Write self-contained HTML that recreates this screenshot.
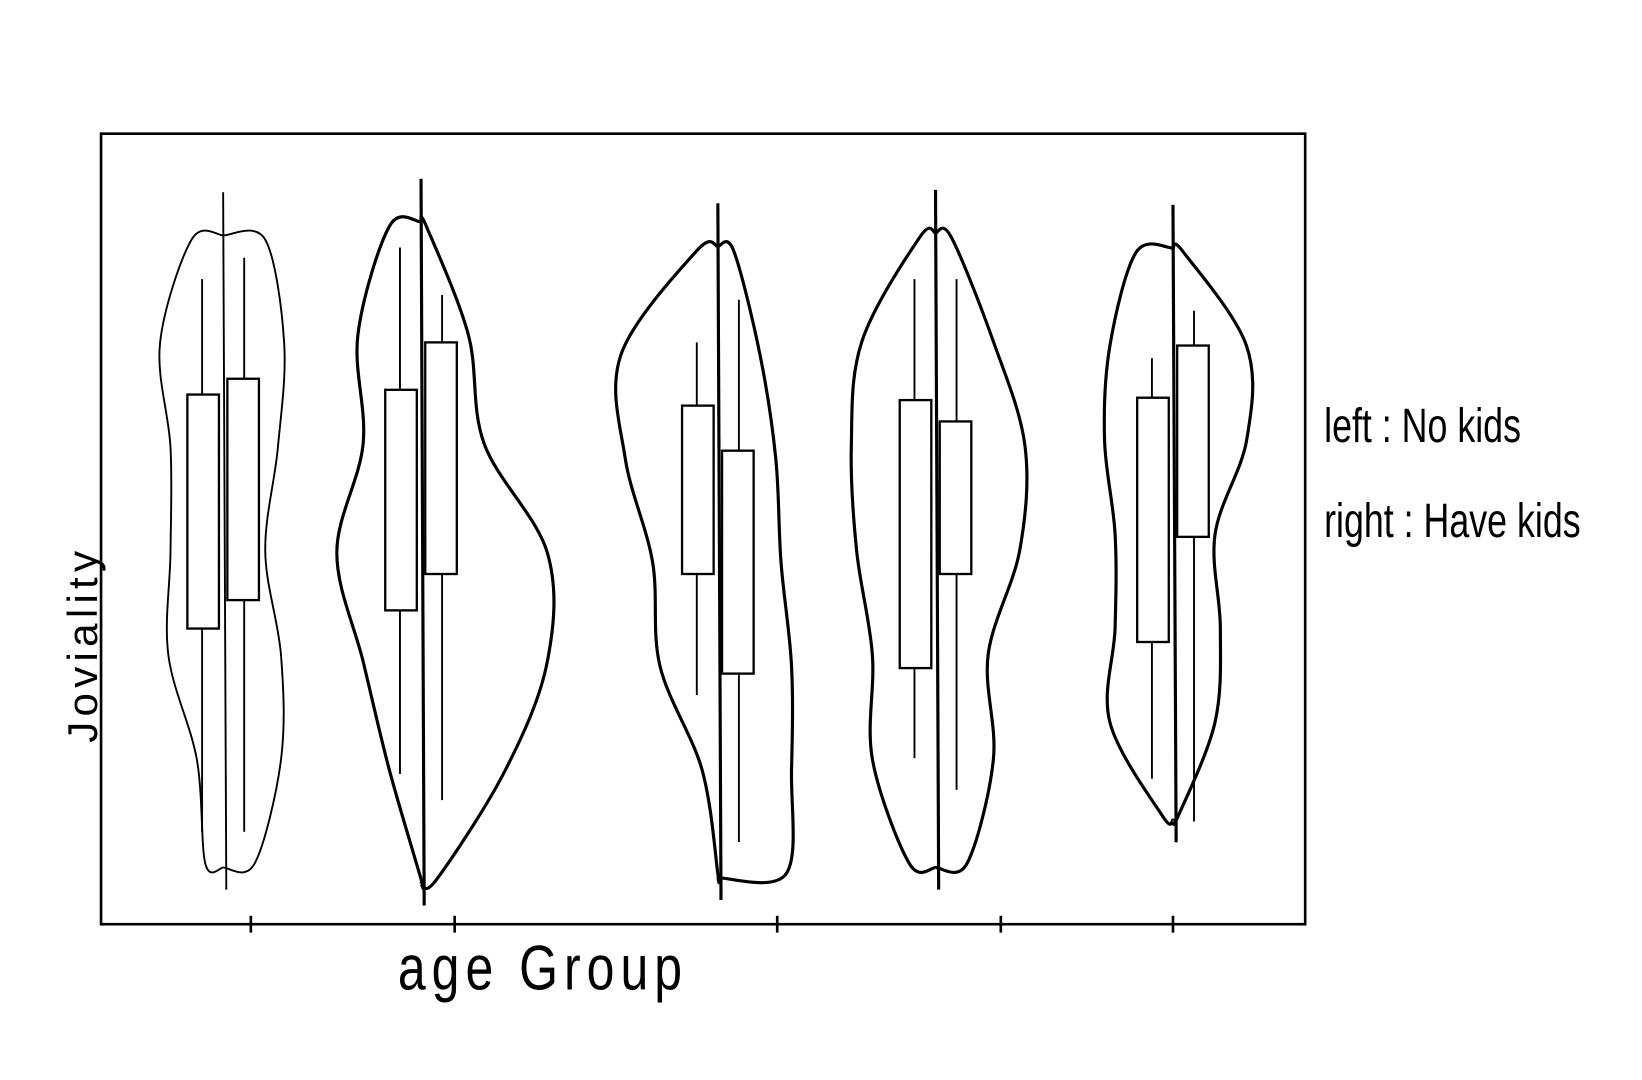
<!DOCTYPE html>
<html><head><meta charset="utf-8"><style>
html,body{margin:0;padding:0;background:#fff;}
svg{display:block;}
text{font-family:"Liberation Sans",sans-serif;fill:#000;}
</style></head><body>
<svg id="chart" width="1642" height="1080" viewBox="0 0 1560 1026" preserveAspectRatio="none" xmlns="http://www.w3.org/2000/svg">
<rect x="96" y="127" width="1144" height="751" fill="none" stroke="#000" stroke-width="2.5"/>
<g id="marks"></g>
<text transform="translate(92,612) rotate(-90)" font-size="40" text-anchor="middle" style="letter-spacing:5px">Joviality</text>
<text x="378" y="940" font-size="50" transform="translate(378,940) scale(0.95,1.2) translate(-378,-940)" style="letter-spacing:6px">age Group</text>
<text x="1258" y="420" font-size="40" transform="translate(1258,420) scale(0.85,1.15) translate(-1258,-420)">left : No kids</text>
<text x="1258" y="510" font-size="40" transform="translate(1258,510) scale(0.85,1.15) translate(-1258,-510)">right : Have kids</text>
</svg>
<script>
const categories = ["G1","G2","G3","G4","G5"];
const groupAges = [25, 35, 50, 61, 73];
const tickAges = [26.4, 36.7, 53, 64.3, 73];
const violinTop = [8.66, 8.83, 8.52, 8.69, 8.50];
const violinBottom = [0.77, 0.57, 0.64, 0.77, 1.37];
const densityNoKids = [
 [0.30,0.60,0.50,0.50,0.52,0.25,0.17],
 [0.30,0.60,0.55,0.80,0.55,0.30,0.00],
 [0.20,0.92,0.88,0.62,0.55,0.15,0.00],
 [0.15,0.70,0.80,0.75,0.60,0.60,0.25],
 [0.35,0.60,0.65,0.55,0.55,0.60,0.10]];
const densityHaveKids = [
 [0.40,0.58,0.52,0.40,0.55,0.55,0.30],
 [0.05,0.45,0.60,1.20,1.20,0.80,0.15],
 [0.15,0.40,0.55,0.60,0.70,0.70,0.65],
 [0.15,0.55,0.85,0.80,0.50,0.55,0.30],
 [0.10,0.70,0.70,0.40,0.45,0.40,0.05]];
const noKidsMin = [1.17,1.90,2.90,2.10,1.84];
const noKidsQ1  = [3.74,3.97,4.43,3.24,3.57];
const noKidsQ3  = [6.70,6.76,6.56,6.63,6.66];
const noKidsMax = [8.16,8.56,7.36,8.16,7.16];
const haveKidsMin = [1.17,1.57,1.04,1.70,1.30];
const haveKidsQ1  = [4.10,4.43,3.17,4.43,4.90];
const haveKidsQ3  = [6.90,7.36,5.99,6.36,7.32];
const haveKidsMax = [8.43,7.96,7.90,8.16,7.76];

const y = v => 878 - v*75.1;
const xa = a => 212 + (a-25)*18.8;
const W = 100;
const NS = "http://www.w3.org/2000/svg";
const g = document.getElementById('marks');
function mk(tag, attrs){const e=document.createElementNS(NS,tag);for(const k in attrs)e.setAttribute(k,attrs[k]);g.appendChild(e);return e;}
function smooth(pts){
  let d="M"+pts[0][0]+","+pts[0][1];
  for(let i=0;i<pts.length-1;i++){
    const p0=pts[Math.max(i-1,0)],p1=pts[i],p2=pts[i+1],p3=pts[Math.min(i+2,pts.length-1)];
    const c1=[p1[0]+(p2[0]-p0[0])/6,p1[1]+(p2[1]-p0[1])/6];
    const c2=[p2[0]-(p3[0]-p1[0])/6,p2[1]-(p3[1]-p1[1])/6];
    d+=" C"+c1+" "+c2+" "+p2;
  }
  return d;
}
categories.forEach((c,i)=>{
  const cx=xa(groupAges[i]), t=violinTop[i], b=violinBottom[i];
  const n=densityNoKids[i].length;
  const lv=k=>t-(t-b)*k/(n-1);
  const left=[[cx,y(t)-4]].concat(densityNoKids[i].map((d,k)=>[cx-d*W,y(lv(k))])).concat([[cx,y(b)+4]]);
  const right=[[cx,y(t)-4]].concat(densityHaveKids[i].map((d,k)=>[cx+d*W,y(lv(k))])).concat([[cx,y(b)+4]]);
  let e=mk('path',{d:smooth(left),fill:'none',stroke:'#000','stroke-width':i===0?1.8:3});
  
  
  e=mk('path',{d:smooth(right),fill:'none',stroke:'#000','stroke-width':i===0?1.8:3});
  
  
  e=mk('line',{x1:cx,x2:cx+3,y1:y(t)-45,y2:y(b)+25,stroke:'#000','stroke-width':i===0?1.8:3});
  
  
  e=mk('rect',{x:cx-34,y:y(noKidsQ3[i]),width:30,height:y(noKidsQ1[i])-y(noKidsQ3[i]),fill:'none',stroke:'#000','stroke-width':2.2});
  
  
  e=mk('line',{x1:cx-20,x2:cx-20,y1:y(noKidsMax[i]),y2:y(noKidsQ3[i]),stroke:'#000','stroke-width':1.8});
  
  
  e=mk('line',{x1:cx-20,x2:cx-20,y1:y(noKidsQ1[i]),y2:y(noKidsMin[i]),stroke:'#000','stroke-width':1.8});
  
  
  e=mk('rect',{x:cx+4,y:y(haveKidsQ3[i]),width:30,height:y(haveKidsQ1[i])-y(haveKidsQ3[i]),fill:'none',stroke:'#000','stroke-width':2.2});
  
  
  e=mk('line',{x1:cx+20,x2:cx+20,y1:y(haveKidsMax[i]),y2:y(haveKidsQ3[i]),stroke:'#000','stroke-width':1.8});
  
  
  e=mk('line',{x1:cx+20,x2:cx+20,y1:y(haveKidsQ1[i]),y2:y(haveKidsMin[i]),stroke:'#000','stroke-width':1.8});
  
  
  const tx=xa(tickAges[i]);
  e=mk('line',{x1:tx,x2:tx,y1:870,y2:886,stroke:'#000','stroke-width':2.5});
  
  
});
</script>
</body></html>
